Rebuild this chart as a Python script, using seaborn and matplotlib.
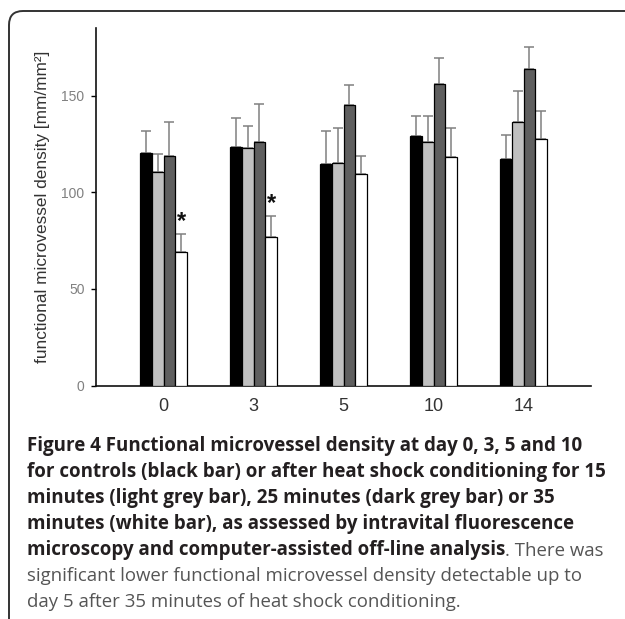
import numpy as np
import pandas as pd
import matplotlib
matplotlib.use("Agg")
import matplotlib.pyplot as plt
import seaborn as sns
from matplotlib.patches import FancyBboxPatch
from matplotlib.transforms import IdentityTransform

# ---------------- data ----------------
days = ["0", "3", "5", "10", "14"]
groups = ["control", "15 min", "25 min", "35 min"]
control = [120.4, 123.5, 114.5, 129.0, 117.0]
hs15 = [110.4, 122.7, 115.3, 125.8, 136.3]
hs25 = [118.7, 125.9, 144.9, 156.1, 164.0]
hs35 = [69.2, 77.0, 109.6, 118.0, 127.7]
control_sd = [11.1, 14.7, 17.0, 10.6, 12.8]
hs15_sd = [9.3, 11.4, 17.7, 13.7, 15.9]
hs25_sd = [17.6, 19.9, 10.6, 13.6, 11.2]
hs35_sd = [9.0, 10.7, 9.0, 15.4, 14.2]
significant = [True, True, False, False, False]  # 35 min vs control
yticks = [0, 50, 100, 150]
ylabel = "functional microvessel density [mm/mm²]"
caption_bold = [
    "Figure 4 Functional microvessel density at day 0, 3, 5 and 10",
    "for controls (black bar) or after heat shock conditioning for 15",
    "minutes (light grey bar), 25 minutes (dark grey bar) or 35",
    "minutes (white bar), as assessed by intravital fluorescence",
    "microscopy and computer-assisted off-line analysis",
]
caption_tail = ". There was"
caption_regular = [
    "significant lower functional microvessel density detectable up to",
    "day 5 after 35 minutes of heat shock conditioning.",
]

means = [control, hs15, hs25, hs35]
sds = [control_sd, hs15_sd, hs25_sd, hs35_sd]
df = pd.DataFrame({
    "day": np.tile(days, len(groups)),
    "group": np.repeat(groups, len(days)),
    "value": np.concatenate(means),
    "sd": np.concatenate(sds),
})

colors = ["#000000", "#c0c0c0", "#5f5f5f", "#ffffff"]

# ---------------- figure ----------------
W, H = 625, 619
fig = plt.figure(figsize=(W / 100, H / 100), dpi=100)
fig.patch.set_facecolor("white")

ax = fig.add_axes([96 / W, 1 - 385.5 / H, 495 / W, (385.5 - 28) / H])
sns.barplot(data=df, x="day", y="value", hue="group", order=days,
            hue_order=groups, palette=colors, width=0.533, gap=0,
            errorbar=None, edgecolor="black", linewidth=0.9,
            legend=False, ax=ax, zorder=3)

# error bars (upward only) placed at the bars seaborn drew
for gi, g in enumerate(groups):
    bars = ax.patches[gi * len(days):(gi + 1) * len(days)]
    xs = [b.get_x() + b.get_width() / 2 for b in bars]
    ys = [b.get_height() for b in bars]
    ax.errorbar(xs, ys, yerr=[np.zeros(len(days)), sds[gi]], fmt="none",
                ecolor="#808080", elinewidth=1.1, capsize=3.8,
                capthick=1.1, zorder=2)
    if g == "35 min":
        for x, y, e, s in zip(xs, ys, sds[gi], significant):
            if s:
                ax.annotate("*", xy=(x, y + e), xytext=(0, 9),
                            textcoords="offset points", ha="center",
                            va="center", fontsize=17, fontweight="bold",
                            family="Liberation Sans", color="#111111")

ax.set_xlim(-0.75, 4.75)
ax.set_ylim(0, 185)
ax.set_yticks(yticks)
ax.set_xlabel("")
ax.set_ylabel(ylabel, fontsize=12.4, family="Liberation Sans",
              color="#333333")
ax.yaxis.set_label_coords(-0.092, 0.5)
for s in ["top", "right"]:
    ax.spines[s].set_visible(False)
for s in ["left", "bottom"]:
    ax.spines[s].set_linewidth(1.2)
    ax.spines[s].set_color("#111111")
ax.tick_params(axis="x", length=0, pad=9, labelsize=13, labelcolor="#333333")
ax.tick_params(axis="y", length=3.8, width=1, pad=4.5, labelsize=10,
               labelcolor="#808080", direction="out")
for lab in ax.get_xticklabels() + ax.get_yticklabels():
    lab.set_family("Liberation Sans")
ax.set_facecolor("white")

# ---------------- frame ----------------
frame = FancyBboxPatch((9, -30), 700, H - 11 + 30,
                       boxstyle="round,pad=0,rounding_size=14",
                       transform=IdentityTransform(), fill=False,
                       edgecolor="#333333", linewidth=1.4, clip_on=False)
fig.add_artist(frame)

# ---------------- caption ----------------
x0 = 27 / W
baselines = [451, 477, 503, 529, 555, 581, 607]
fs_b = 13.5
fs_r = 13.4
last = None
for i, line in enumerate(caption_bold):
    last = fig.text(x0, 1 - baselines[i] / H, line, fontsize=fs_b,
                    fontweight="bold", family="Open Sans", color="#231f20",
                    ha="left", va="baseline")
ax.annotate(caption_tail, xy=(1, 0), xycoords=last, ha="left", va="bottom",
            fontsize=fs_r, family="Open Sans", color="#555555",
            annotation_clip=False)
for j, line in enumerate(caption_regular):
    fig.text(x0, 1 - baselines[5 + j] / H, line, fontsize=fs_r,
             family="Open Sans", color="#555555", ha="left", va="baseline")

fig.savefig("out.png", dpi=100)
